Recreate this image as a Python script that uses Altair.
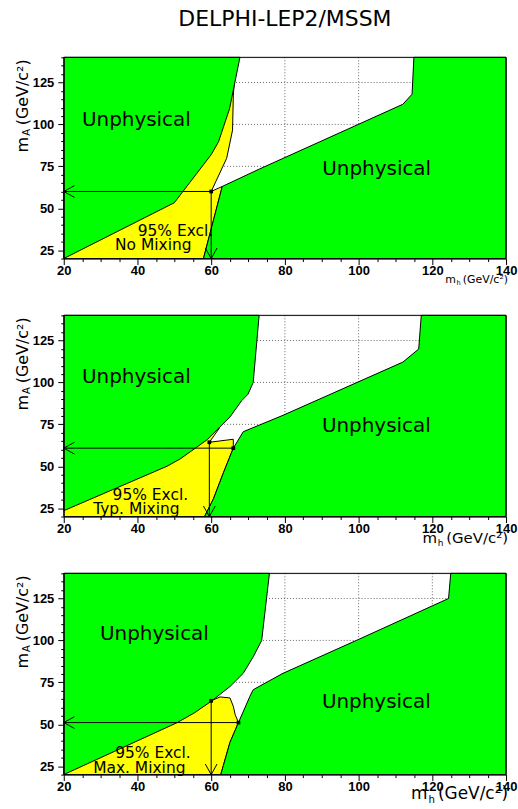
import altair as alt
import pandas as pd

# ---------------- data ----------------
TITLE = "DELPHI-LEP2/MSSM"

# Panel 1 : No Mixing
p1_gl_x = [20, 50, 60, 62, 65, 67.8, 20]
p1_gl_y = [20, 53.3, 82, 89.7, 109.5, 140, 140]
p1_gr_x = [57.9, 63, 73, 112, 114.5, 115, 140, 140]
p1_gr_y = [20, 63, 73.3, 112, 118, 140, 140, 20]
p1_ye_x = [20, 57.9, 63, 60, 64.2, 65.8, 66, 66.3, 20]
p1_ye_y = [20, 20, 63, 60, 79.8, 96.6, 117, 126, 126]
p1_pts_x = [60]
p1_pts_y = [60]
p1_harrow = (60, 60)      # start of the horizontal arrow (x, y)
p1_varrow = (60, 60)      # start of the vertical arrow (x, y)
p1_lab_t = ["Unphysical", "Unphysical", "95% Excl.", "No Mixing"]
p1_lab_x = [39.7, 104.9, 50.3, 44.3]
p1_lab_y = [102.6, 73.5, 36.6, 28.3]

# Panel 2 : Typical Mixing
p2_gl_x = [20, 48, 51.6, 55.7, 59, 62.4, 65.1, 68.3, 70, 71.4, 73, 20]
p2_gl_y = [23.5, 50, 54.4, 60.8, 66, 73.5, 79.4, 89.2, 93, 100, 140, 140]
p2_gr_x = [58.2, 60.6, 63.3, 66, 68.7, 79.5, 112, 116.3, 117, 140, 140]
p2_gr_y = [20, 30.5, 46, 60.8, 70.6, 80.4, 112.1, 119.9, 140, 140, 20]
p2_ye_x = [20, 58.2, 60.6, 63.3, 66, 66, 59.5, 62.3, 20]
p2_ye_y = [20, 20, 30.5, 46, 60.8, 66.1, 64.3, 73, 73]
p2_pts_x = [59.5, 66]
p2_pts_y = [64.3, 60.8]
p2_harrow = (66, 60.8)
p2_varrow = (59.5, 64.3)
p2_lab_t = ["Unphysical", "Unphysical", "95% Excl.", "Typ. Mixing"]
p2_lab_x = [39.7, 104.8, 43.5, 39.7]
p2_lab_y = [103.2, 73.9, 32.9, 24.4]

# Panel 3 : Maximal Mixing
p3_gl_x = [20, 50.7, 55.5, 60, 65.1, 68.7, 71.4, 73.7, 75.8, 20]
p3_gl_y = [20, 50.9, 56.9, 63.7, 72.5, 80.4, 90.2, 100, 140, 140]
p3_gr_x = [62.6, 63.3, 65.1, 67.4, 70.5, 71.4, 79.5, 99.4, 124.4, 125, 140, 140]
p3_gr_y = [20, 25.4, 39.2, 51, 66.6, 70.6, 80.4, 100, 125, 140, 140, 20]
p3_ye_x = [20, 62.6, 63.3, 65.1, 67.4, 66.5, 66, 65.1, 62.4, 60, 20]
p3_ye_y = [20, 20, 25.4, 39.2, 51, 55.8, 60.7, 65.7, 66.3, 64, 64]
p3_pts_x = [60, 67.4]
p3_pts_y = [64, 51]
p3_harrow = (67.4, 51)
p3_varrow = (60, 64)
p3_lab_t = ["Unphysical", "Unphysical", "95% Excl.", "Max. Mixing"]
p3_lab_x = [44.6, 104.8, 44.2, 40.5]
p3_lab_y = [103.8, 63, 32.9, 24]

GRID_X = [40, 60, 80, 100, 120]
GRID_Y = [50, 75, 100, 125]
X_TICKS = list(range(20, 141, 5))
Y_TICKS = list(range(20, 141, 5))

# ---------------- styling ----------------
W, H = 444, 202
GREEN = "#00ff00"
YELLOW = "#ffff00"
TXT_FONT = "DejaVu Sans"
LAB_FONT = "Liberation Sans"
XTITLE_SIZES = [11, 15, 17]   # the x-axis title grows from panel to panel
XTITLE_BASE = [25, 27, 25]    # baseline offset below the plot

xscale = alt.Scale(domain=[20, 140], nice=False, zero=False)
yscale = alt.Scale(domain=[20, 140], nice=False, zero=False)

common_axis = dict(
    title=None, grid=False, labelFont=LAB_FONT, labelFontSize=13,
    labelFontWeight="bold", labelColor="black", tickColor="black",
    domainColor="black", tickWidth=1, domainWidth=1, labelFlush=False,
    labelOverlap=False, zindex=1,
)
xaxis = alt.Axis(
    values=X_TICKS,
    labelExpr="datum.value % 20 === 0 ? datum.label : ''",
    tickSize={"condition": {"test": "datum.value % 20 === 0", "value": 6}, "value": 3},
    labelPadding=0, **common_axis,
)
yaxis = alt.Axis(
    values=Y_TICKS,
    labelExpr="datum.value % 25 === 0 ? datum.label : ''",
    tickSize={"condition": {"test": "datum.value % 25 === 0", "value": 6}, "value": 3},
    labelPadding=4, **common_axis,
)


def X(f="x"):
    return alt.X(f"{f}:Q", scale=xscale, axis=xaxis)


def Y(f="y"):
    return alt.Y(f"{f}:Q", scale=yscale, axis=yaxis)


def poly(xs, ys, pid):
    return pd.DataFrame({"x": xs, "y": ys, "i": list(range(len(xs))), "pid": pid})


def txt(one, text, size, x, y, **kw):
    return alt.Chart(one).mark_text(text=text, font=TXT_FONT, fontSize=size,
                                    color="black", **kw).encode(
        x=alt.value(x), y=alt.value(y))


def panel(gl_x, gl_y, gr_x, gr_y, ye_x, ye_y, pts_x, pts_y, harrow, varrow,
          lab_t, lab_x, lab_y, xt_size, xt_base, top=False):
    one = pd.DataFrame({"k": [0]})
    layers = []
    # dotted grid (below everything)
    layers.append(alt.Chart(pd.DataFrame({"x": GRID_X})).mark_rule(
        color="#666", strokeDash=[1, 2], strokeWidth=1).encode(x=X()))
    layers.append(alt.Chart(pd.DataFrame({"y": GRID_Y})).mark_rule(
        color="#666", strokeDash=[1, 2], strokeWidth=1).encode(y=Y()))
    # yellow exclusion
    layers.append(alt.Chart(poly(ye_x, ye_y, "ye")).mark_line(
        interpolate="linear-closed", fill=YELLOW, stroke="black", strokeWidth=1
    ).encode(x=X(), y=Y(), order=alt.Order("i:Q")))
    # green unphysical regions
    gdf = pd.concat([poly(gl_x, gl_y, "gl"), poly(gr_x, gr_y, "gr")])
    layers.append(alt.Chart(gdf).mark_line(
        interpolate="linear-closed", fill=GREEN, stroke="black", strokeWidth=1
    ).encode(x=X(), y=Y(), order=alt.Order("i:Q"), detail="pid:N"))
    # arrows
    hx, hy = harrow
    vx, vy = varrow
    seg = pd.DataFrame({
        "x": [hx, 20, 20, vx, vx, vx],
        "y": [hy, hy, hy, vy, 20, 20],
        "x2": [20, 22.9, 22.9, vx, vx - 1.6, vx + 1.6],
        "y2": [hy, hy + 3.5, hy - 3.5, 20, 26.3, 26.3],
    })
    layers.append(alt.Chart(seg).mark_rule(color="black", strokeWidth=1).encode(
        x=X(), y=Y(), x2="x2:Q", y2="y2:Q"))
    layers.append(alt.Chart(pd.DataFrame({"x": pts_x, "y": pts_y})).mark_square(
        size=14, color="black", opacity=1).encode(x=X(), y=Y()))
    # frame top / right
    layers.append(alt.Chart(one).mark_rule(color="black", strokeWidth=1).encode(
        y=alt.value(0)))
    layers.append(alt.Chart(one).mark_rule(color="black", strokeWidth=1).encode(
        x=alt.value(W)))
    # region labels
    ldf = pd.DataFrame({"t": lab_t, "x": lab_x, "y": lab_y,
                        "s": [20, 20, 15.5, 15.5]})
    layers.append(alt.Chart(ldf).mark_text(font=TXT_FONT, color="black",
                                           baseline="middle").encode(
        x=X(), y=Y(), text="t:N", size=alt.Size("s:Q", scale=None, legend=None)))
    # y axis title  m_A (GeV/c^2)
    layers.append(txt(one, "(GeV/c²)", 16, -41, 2, angle=270, align="right", baseline="middle"))
    layers.append(txt(one, "A", 10, -37, 72, angle=270, align="right", baseline="middle"))
    layers.append(txt(one, "m", 16, -41, 80, angle=270, align="right", baseline="middle"))
    # x axis title  m_h (GeV/c^2)
    s = xt_size
    r = 446
    h_r = r - 4.12 * s - 0.2 * s
    m_r = h_r - 0.38 * s - 0.05 * s
    yb = H + xt_base
    layers.append(txt(one, "(GeV/c²)", s, r, yb, align="right", baseline="alphabetic"))
    layers.append(txt(one, "h", 0.6 * s, h_r, yb + 0.18 * s, align="right", baseline="alphabetic"))
    layers.append(txt(one, "m", s, m_r, yb, align="right", baseline="alphabetic"))
    if top:
        layers.append(txt(one, TITLE, 22, W / 2, -38, align="center", baseline="middle"))
        # invisible anchor fixing the chart's top-left corner
        layers.append(alt.Chart(one).mark_rule(strokeWidth=0, opacity=0).encode(
            x=alt.value(-63), x2=alt.value(-62), y=alt.value(-55), y2=alt.value(-54)))
    return alt.layer(*layers).properties(width=W, height=H)


c1 = panel(p1_gl_x, p1_gl_y, p1_gr_x, p1_gr_y, p1_ye_x, p1_ye_y, p1_pts_x, p1_pts_y,
           p1_harrow, p1_varrow, p1_lab_t, p1_lab_x, p1_lab_y,
           XTITLE_SIZES[0], XTITLE_BASE[0], top=True)
c2 = panel(p2_gl_x, p2_gl_y, p2_gr_x, p2_gr_y, p2_ye_x, p2_ye_y, p2_pts_x, p2_pts_y,
           p2_harrow, p2_varrow, p2_lab_t, p2_lab_x, p2_lab_y,
           XTITLE_SIZES[1], XTITLE_BASE[1])
c3 = panel(p3_gl_x, p3_gl_y, p3_gr_x, p3_gr_y, p3_ye_x, p3_ye_y, p3_pts_x, p3_pts_y,
           p3_harrow, p3_varrow, p3_lab_t, p3_lab_x, p3_lab_y,
           XTITLE_SIZES[2], XTITLE_BASE[2])

chart = alt.vconcat(c1, c2, c3, spacing=57, bounds="flush").properties(
    padding={"left": 0, "top": 0, "right": 0, "bottom": 0}
).configure_view(stroke="black", strokeWidth=1).configure(background="white")

chart.save("out.html", embed_options={"renderer": "svg", "actions": False})
